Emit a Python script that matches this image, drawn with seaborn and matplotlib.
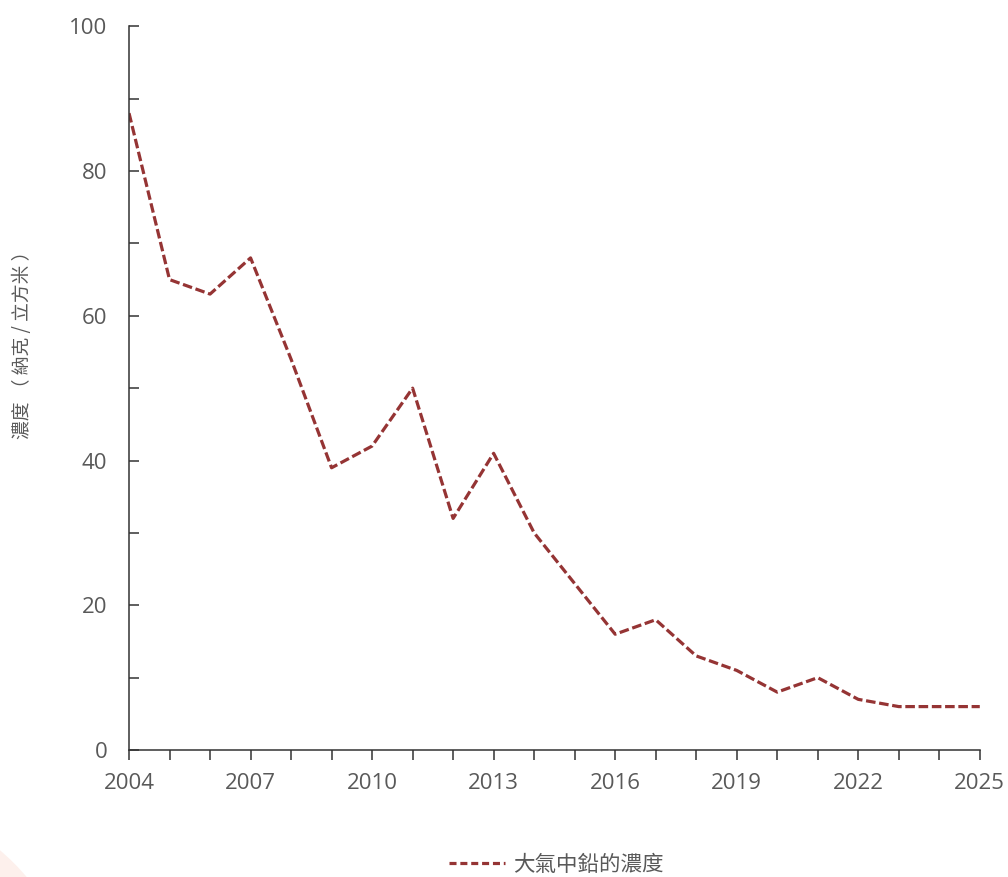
import matplotlib
matplotlib.use("Agg")
import matplotlib.pyplot as plt
import seaborn as sns
import pandas as pd
from matplotlib.patches import Ellipse
from matplotlib.ticker import MultipleLocator

years = list(range(2004, 2026))
lead = [88, 65, 63, 68, 54, 39, 42, 50, 32, 41, 30, 23, 16, 18, 13, 11, 8, 10, 7, 6, 6, 6]
series_name = "大氣中鉛的濃度"
y_label = "濃度 （ 納克 / 立方米 ）"

df = pd.DataFrame({"year": years, "value": lead, "series": series_name})

sns.set_theme(style="white")
plt.rcParams['font.family'] = ['Noto Sans CJK TC', 'DejaVu Sans']

fig = plt.figure(figsize=(10.08, 8.77), dpi=100)
fig.patches.append(Ellipse((-0.149, -0.171), 0.46, 0.529, transform=fig.transFigure,
                           facecolor="#fdf0ec", edgecolor="none", zorder=0))
ax = fig.add_axes([0.128, 0.1448, 0.844, 0.8252])
ax.set_facecolor("none")

sns.lineplot(data=df, x="year", y="value", hue="series", palette=["#953434"],
             linewidth=2.3, ax=ax)
ln = ax.lines[0]
ln.set_dashes((3.0, 1.15))
ln.set_dash_capstyle("butt")

ax.set_xlim(2004, 2025)
ax.set_ylim(0, 100)
ax.xaxis.set_major_locator(MultipleLocator(3))
ax.xaxis.set_minor_locator(MultipleLocator(1))
ax.yaxis.set_major_locator(MultipleLocator(20))
ax.yaxis.set_minor_locator(MultipleLocator(10))

grey = "#595959"
ax.tick_params(axis="x", which="both", direction="out", length=7, width=1.1,
               color="#333333", labelsize=16, labelcolor=grey, bottom=True, pad=9.5)
ax.tick_params(axis="y", which="both", direction="in", length=7, width=1.1,
               color="#333333", labelsize=16, labelcolor=grey, left=True, pad=15.5)
for lab in ax.get_xticklabels() + ax.get_yticklabels():
    lab.set_fontfamily(['Open Sans', 'DejaVu Sans'])
for s in ["top", "right"]:
    ax.spines[s].set_visible(False)
for s in ["left", "bottom"]:
    ax.spines[s].set_color("#333333")
    ax.spines[s].set_linewidth(1.1)

ax.set_xlabel("")
ax.set_ylabel(y_label, fontsize=13.5, color=grey)
ax.yaxis.set_label_coords((33 - 129) / 850.6, (750 - 340) / 724)

handles, labels = ax.get_legend_handles_labels()
ax.legend_.remove()
leg = fig.legend(handles, labels, loc="center", bbox_to_anchor=(0.552, 0.014),
                 frameon=False, fontsize=15.5, handlelength=2.6, handletextpad=0.4)
for t in leg.get_texts():
    t.set_color(grey)
for h in leg.legend_handles:
    h.set_dashes((2.2, 1.2))

fig.savefig("out.png", dpi=100)
